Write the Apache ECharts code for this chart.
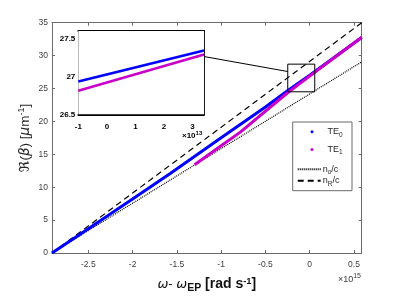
<!DOCTYPE html>
<html><head><meta charset="utf-8">
<script src="https://cdn.jsdelivr.net/npm/echarts@6/dist/echarts.min.js"></script>
<style>html,body{margin:0;padding:0;background:#fff}#c{width:399px;height:299px}</style>
</head><body><div id="c"></div>
<script>
// ---- data (x in units of 1e15 rad/s for the main axes, 1e13 for the inset) ----
const xTicks = [-2.5, -2, -1.5, -1, -0.5, 0, 0.5];
const yTicks = [0, 5, 10, 15, 20, 25, 30, 35];
const insetXTicks = [-1, 0, 1, 2, 3];
const insetYTicks = [26.5, 27, 27.5];
const te0 = [[-2.91, 0], [-2.5, 3.7], [-2.0, 8.2], [-1.575, 12.08], [-1.0, 17.5], [-0.5, 22.2], [-0.25, 24.65], [0, 27.02], [0.587, 32.75]];
const te1 = [[-1.30, 13.4], [-1.0, 16.3], [-0.783, 18.37], [-0.25, 24.35], [0, 26.91], [0.587, 32.8]];
const noC = [[-2.91, 0], [0.587, 29.05]];
const nRC = [[-2.91, 0], [0.587, 35]];
const insetTe0 = [[-1, 26.934], [3.4, 27.342]];
const insetTe1 = [[-1, 26.81], [3.4, 27.29]];
const zoomBox = [[-0.248, 24.5], [0.057, 28.7]];
const connector = [[-1.19, 29.85], [-0.248, 27.58]];

const X_MIN = -2.91, X_MAX = 0.587, Y_MIN = 0, Y_MAX = 35;
const IX_MIN = -1, IX_MAX = 3.4, IY_MIN = 26.5, IY_MAX = 27.6;

const FONT = '"Liberation Sans", Arial, sans-serif';
const AX = '#6b6b6b';
const LBL = '#404040';
const BLUE = '#0000ff', MAG = '#c800c8';

const boxPts = [
  [zoomBox[0][0], zoomBox[0][1]], [zoomBox[1][0], zoomBox[0][1]],
  [zoomBox[1][0], zoomBox[1][1]], [zoomBox[0][0], zoomBox[1][1]],
  [zoomBox[0][0], zoomBox[0][1]]
];

function mainAxis(pos, show, ticks, min, max, extra) {
  return Object.assign({
    type: 'value', gridIndex: 0, position: pos, min: min, max: max,
    axisLine: {show: true, onZero: false, lineStyle: {color: AX, width: 1}},
    axisTick: {show: true, inside: true, length: 3, customValues: ticks, lineStyle: {color: AX, width: 1}},
    axisLabel: {show: show, customValues: ticks, color: LBL, fontSize: 8.5, fontFamily: FONT, formatter: v => String(v)},
    splitLine: {show: false}
  }, extra || {});
}
function insetAxis(pos, show, ticks, min, max, extra) {
  return Object.assign({
    type: 'value', gridIndex: 1, position: pos, min: min, max: max,
    axisLine: {show: true, onZero: false, lineStyle: {color: '#000', width: 1.8}},
    axisTick: {show: true, inside: true, length: 2.5, customValues: ticks, lineStyle: {color: '#000', width: 1}},
    axisLabel: {show: show, customValues: ticks, color: '#000', fontSize: 8, fontWeight: 'bold', fontFamily: FONT, formatter: v => String(v)},
    splitLine: {show: false}
  }, extra || {});
}

const legRich = {
  t: {fontSize: 9, fontFamily: FONT, color: '#262626', lineHeight: 12},
  s: {fontSize: 6.5, fontFamily: FONT, color: '#262626', lineHeight: 12, padding: [6, 0, 0, 0]}
};
function leg(name, fmt, left, top, w, h, icon, padLeft) {
  const d = icon ? [{name: name, icon: icon}] : [name];
  const o = {
    data: d, left: left, top: top, orient: 'horizontal', padding: 0,
    itemWidth: w, itemHeight: h, z: 10, selectedMode: false,
    formatter: () => fmt,
    textStyle: {rich: legRich, padding: [0, 0, 0, padLeft || 0]}
  };
  if (!icon) o.itemStyle = {opacity: 0};
  return o;
}

const option = {
  animation: false,
  backgroundColor: '#fff',
  grid: [
    {left: 52, top: 22.7, right: 37.3, bottom: 45.7},
    {left: 78.3, top: 31, width: 125.7, height: 83.3, show: true, backgroundColor: '#fff', borderWidth: 0, z: 5}
  ],
  xAxis: [
    mainAxis('bottom', true, xTicks, X_MIN, X_MAX, {
      axisLabel: {show: true, customValues: xTicks, margin: 7, color: LBL, fontSize: 8.5, fontFamily: FONT, formatter: v => String(v)},
      name: '{w|ω}{m|- }{w|ω}{sub|EP}{b| [rad s}{sup|-1}{b|]}',
      nameLocation: 'middle', nameGap: 22, nameMoveOverlap: false,
      nameTextStyle: {rich: {
        w: {fontSize: 13, fontStyle: 'italic', fontFamily: '"DejaVu Sans", sans-serif', color: '#111'},
        m: {fontSize: 13, fontFamily: FONT, color: '#111'},
        sub: {fontSize: 10.5, fontWeight: 'bold', fontFamily: FONT, color: '#111', padding: [8, 0, 0, 0]},
        b: {fontSize: 14, fontWeight: 'bold', fontFamily: FONT, color: '#111'},
        sup: {fontSize: 9.5, fontWeight: 'bold', fontFamily: FONT, color: '#111', padding: [0, 0, 7, 0]}
      }}
    }),
    mainAxis('top', false, xTicks, X_MIN, X_MAX),
    insetAxis('bottom', true, insetXTicks, IX_MIN, IX_MAX, {}),
    insetAxis('top', false, insetXTicks, IX_MIN, IX_MAX, {})
  ],
  yAxis: [
    mainAxis('left', true, yTicks, Y_MIN, Y_MAX, {
      axisLabel: {show: true, customValues: yTicks, margin: 4, color: LBL, fontSize: 8.5, fontFamily: FONT, formatter: v => String(v)},
      name: '{r|ℜ}{n|(}{i|β}{n|) [}{i|μ}{n|m}{sup|-1}{n|]}',
      nameLocation: 'middle', nameRotate: 90, nameGap: 19, nameMoveOverlap: false,
      nameTextStyle: {rich: {
        r: {fontSize: 14, fontFamily: '"DejaVu Serif", "DejaVu Sans", serif', color: '#262626'},
        n: {fontSize: 13.5, fontFamily: FONT, color: '#262626'},
        i: {fontSize: 13.5, fontStyle: 'italic', fontFamily: '"DejaVu Sans", sans-serif', color: '#262626'},
        sup: {fontSize: 9, fontFamily: FONT, color: '#262626', padding: [0, 0, 7, 0]}
      }}
    }),
    mainAxis('right', false, yTicks, Y_MIN, Y_MAX),
    insetAxis('left', true, insetYTicks, IY_MIN, IY_MAX, {axisLabel: {show: true, customValues: insetYTicks, margin: 3, color: '#000', fontSize: 8, fontWeight: 'bold', fontFamily: FONT, formatter: v => String(v)}}),
    insetAxis('right', false, insetYTicks, IY_MIN, IY_MAX, {})
  ],
  legend: [
    leg('TE0', '{t|TE}{s|0}', 310.5, 125.3, 3, 3, 'circle', 9),
    leg('TE1', '{t|TE}{s|1}', 310.5, 143, 3, 3, 'circle', 9),
    leg('no', '{t|n}{s|o}{t|/c}', 296.7, 162.7, 23, 8, null, -3),
    leg('nR', '{t|n}{s|R}{t|/c}', 296.7, 174.3, 23, 8, null, -3)
  ],
  graphic: [
    {type: 'rect', shape: {x: 292.7, y: 122, width: 59.3, height: 68.7}, style: {fill: '#fff', stroke: '#6b6b6b', lineWidth: 1}, z: 8},
    {type: 'text', right: 38, top: 273, z: 10, style: {text: '×10{s|15}', font: '9px ' + FONT, fill: LBL, rich: {s: {fontSize: 7, fontFamily: FONT, fill: LBL, padding: [0, 0, 6, 0]}}}},
    {type: 'text', left: 182, top: 130, z: 10, style: {text: '×10{s|13}', font: 'bold 8px ' + FONT, fill: '#000', rich: {s: {fontSize: 6, fontWeight: 'bold', fontFamily: FONT, fill: '#000', padding: [0, 0, 5, 0]}}}}
  ],
  series: [
    {name: 'no', type: 'line', xAxisIndex: 0, yAxisIndex: 0, data: noC, symbol: 'none', z: 2,
     lineStyle: {color: '#000', width: 1.2, type: [1, 1]}},
    {name: 'nR', type: 'line', xAxisIndex: 0, yAxisIndex: 0, data: nRC, symbol: 'none', z: 2,
     lineStyle: {color: '#000', width: 1.2, type: [6, 4]}},
    {name: 'TE0', type: 'line', xAxisIndex: 0, yAxisIndex: 0, data: te0, symbol: 'none', z: 3,
     itemStyle: {color: BLUE}, lineStyle: {color: BLUE, width: 3}},
    {name: 'TE1', type: 'line', xAxisIndex: 0, yAxisIndex: 0, data: te1, symbol: 'none', z: 4,
     itemStyle: {color: MAG}, lineStyle: {color: MAG, width: 3}},
    {name: 'box', type: 'line', xAxisIndex: 0, yAxisIndex: 0, data: boxPts, symbol: 'none', z: 6, silent: true,
     lineStyle: {color: '#000', width: 1}},
    {name: 'conn', type: 'line', xAxisIndex: 0, yAxisIndex: 0, data: connector, symbol: 'none', z: 6, silent: true,
     lineStyle: {color: '#000', width: 1}},
    {name: 'iTE0', type: 'line', xAxisIndex: 2, yAxisIndex: 2, data: insetTe0, symbol: 'none', z: 7,
     lineStyle: {color: BLUE, width: 2.6}},
    {name: 'iTE1', type: 'line', xAxisIndex: 2, yAxisIndex: 2, data: insetTe1, symbol: 'none', z: 7,
     lineStyle: {color: MAG, width: 2.6}}
  ]
};
const chart = echarts.init(document.getElementById('c'), null, {renderer: 'canvas'});
chart.setOption(option);
</script>
</body></html>
